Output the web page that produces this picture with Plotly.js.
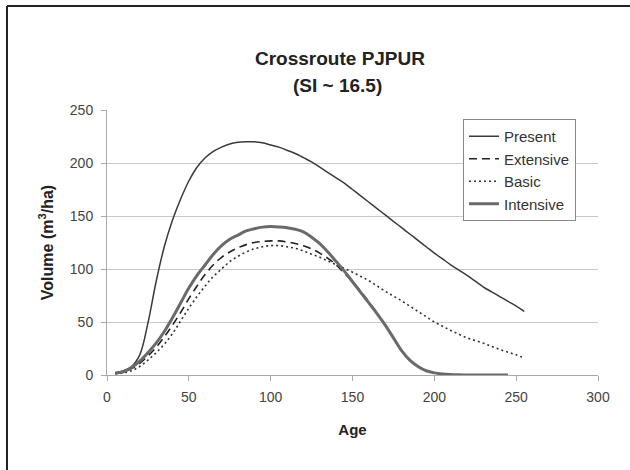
<!DOCTYPE html>
<html>
<head>
<meta charset="utf-8">
<script src="https://cdn.plot.ly/plotly-3.0.1.min.js"></script>
<style>html,body{margin:0;padding:0;background:#fff;}#chart{width:630px;height:470px;}</style>
</head>
<body>
<div id="chart"></div>
<script>
const seriesNames = ["Present", "Extensive", "Basic", "Intensive"];

const presentAge = [5,10,15,20,25,30,35,40,45,50,55,60,65,70,75,80,85,90,95,100,105,110,115,120,125,130,135,140,145,150,155,160,165,170,175,180,185,190,195,200,205,210,215,220,225,230,235,240,245,250,255];
const presentVol = [2,4,8,19,49,88,121,146,166,183,196,205,211,215,218,219.5,220,220,219,217,215,212,209,205,201,196,191,186,181,175,169,163,157,151,145,139,133,127,121,115,109.5,104,99,94,88.5,83,78.5,74,69.5,65,60];

const extensiveAge = [5,10,15,20,25,30,35,40,45,50,55,60,65,70,75,80,85,90,95,100,105,110,115,120,125,130,135,140,145,150,155,160,165,170,175,180,185,190,195,200,205,210,215];
const extensiveVol = [2,3,6,11,18,26,36,47,59,72,84,95,104,111,116,120,123,125,126,126.5,126.5,125.5,124,122,119,115,110,104,96,88,79,69,58,47,35,23,14,8,4,2,1,0.5,0];

const basicAge = [5,10,15,20,25,30,35,40,45,50,55,60,65,70,75,80,85,90,95,100,105,110,115,120,125,130,135,140,145,150,155,160,165,170,175,180,185,190,195,200,205,210,215,220,225,230,235,240,245,250,255];
const basicVol = [1,2,4,8,14,21,29,39,51,63,74,84,93,100,107,112,116,119,121,122,122,121,119.5,117,114,111,107.5,104,100.5,97,93,89,84,79,74.5,70,65,60,55,50,46,42,38.5,35,32.5,30,27,24,21.5,19,16];

const intensiveAge = [5,10,15,20,25,30,35,40,45,50,55,60,65,70,75,80,85,90,95,100,105,110,115,120,125,130,135,140,145,150,155,160,165,170,175,180,185,190,195,200,205,210,215,220,225,230,235,240,245];
const intensiveVol = [2,3,7,13,21,30,41,54,68,82,94,104,114,122,128,132,136,138,139.5,140,139.7,139,137.5,135,130,124,116,107,98,88,78,68,58,47,35,23,14,8,4,2,1,0.5,0.2,0,0,0,0,0,0];

const xTicks = [0,50,100,150,200,250,300];
const yTicks = [0,50,100,150,200,250];

const traces = [
  {x: presentAge, y: presentVol, name: seriesNames[0], legendgroup: "a",
   line: {color: "#3a3a3a", width: 1.5, shape: "spline"}},
  {x: extensiveAge, y: extensiveVol, name: seriesNames[1], legendgroup: "b",
   line: {color: "#222", width: 1.6, dash: "8px,5px", shape: "spline"}},
  {x: basicAge, y: basicVol, name: seriesNames[2], legendgroup: "c",
   line: {color: "#333", width: 1.6, dash: "2px,3px", shape: "spline"}},
  {x: intensiveAge, y: intensiveVol, name: seriesNames[3], legendgroup: "d",
   line: {color: "#6a6a6a", width: 3, shape: "spline"}}
].map(t => Object.assign({type: "scatter", mode: "lines"}, t));

const fontFam = "Liberation Sans, Arial, sans-serif";

const layout = {
  width: 630, height: 470,
  margin: {l: 107, r: 32, t: 110, b: 95},
  paper_bgcolor: "#fff", plot_bgcolor: "#fff",
  font: {family: fontFam, color: "#333"},
  showlegend: true,
  title: {text: "<b>Crossroute PJPUR</b>", font: {size: 19, color: "#222", family: fontFam},
          x: 340/630, xanchor: "center", xref: "container", y: 1 - 58/470, yanchor: "middle", yref: "container"},
  annotations: [{text: "<b>(SI ~ 16.5)</b>", xref: "paper", yref: "paper",
    x: (337-107)/491, y: (375-85)/265, xanchor: "center", yanchor: "middle",
    showarrow: false, font: {size: 19, color: "#222", family: fontFam}}],
  xaxis: {
    range: [0, 300], tickvals: xTicks, ticktext: xTicks.map(String),
    showgrid: false, zeroline: false,
    showline: true, linecolor: "#a8a8a8", linewidth: 1,
    ticks: "outside", ticklen: 5, tickcolor: "#a8a8a8",
    ticklabelstandoff: 4,
    tickfont: {size: 14, color: "#444"},
    title: {text: "<b>Age</b>", font: {size: 15, color: "#222"}, standoff: 20}
  },
  yaxis: {
    range: [0, 250], tickvals: yTicks, ticktext: yTicks.map(String),
    showgrid: true, gridcolor: "#c8c8c8", gridwidth: 1,
    zeroline: false,
    showline: true, linecolor: "#a8a8a8", linewidth: 1,
    ticks: "outside", ticklen: 5, tickcolor: "#a8a8a8",
    ticklabelstandoff: 5,
    tickfont: {size: 14, color: "#444"},
    title: {text: "<b>Volume (m<sup>3</sup>/ha)</b>", font: {size: 16, color: "#222"}, standoff: 12}
  },
  legend: {
    x: (463-107)/491, y: (375-119)/265, xanchor: "left", yanchor: "top",
    bgcolor: "#fff", bordercolor: "#888", borderwidth: 1,
    font: {size: 15, color: "#333"}, tracegroupgap: 4, traceorder: "normal"
  },
  shapes: [
    {type: "line", xref: "paper", yref: "paper",
     x0: (7-107)/491, x1: (630-107)/491, y0: (375-6)/265, y1: (375-6)/265,
     line: {color: "#222", width: 2}},
    {type: "line", xref: "paper", yref: "paper",
     x0: (7-107)/491, x1: (7-107)/491, y0: (375-6)/265, y1: (375-470)/265,
     line: {color: "#222", width: 2}}
  ]
};

Plotly.newPlot("chart", traces, layout, {staticPlot: true, displayModeBar: false});
</script>
</body>
</html>
